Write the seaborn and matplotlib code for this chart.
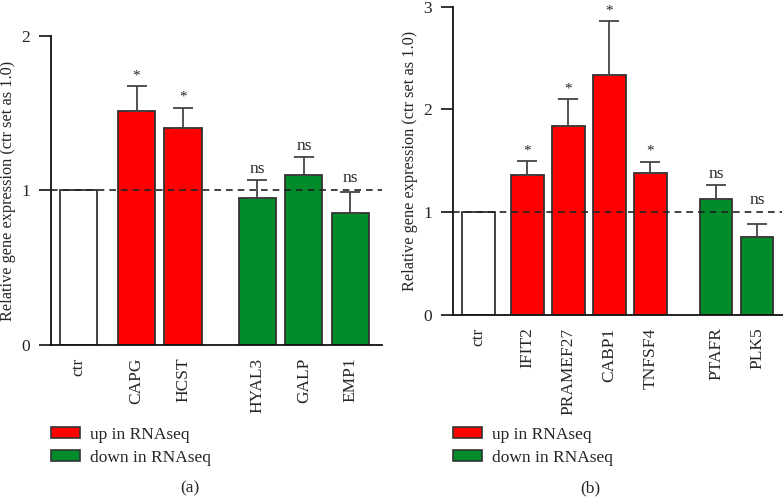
import matplotlib
matplotlib.use("Agg")
import matplotlib.pyplot as plt
import seaborn as sns
import pandas as pd
from matplotlib.patches import Patch

sns.set_style("ticks")
plt.rcParams['font.family'] = ['Liberation Serif', 'DejaVu Serif']

# Panel (a)
genes_a = ["ctr", "CAPG", "HCST", "HYAL3", "GALP", "EMP1"]
pos_a = [0, 1.25, 2.25, 3.85, 4.85, 5.85]
vals_a = [1.0, 1.515, 1.405, 0.951, 1.102, 0.854]
err_a = [0.0, 0.161, 0.129, 0.119, 0.113, 0.134]
group_a = ["ctr", "up", "up", "down", "down", "down"]
sig_a = ["", "*", "*", "ns", "ns", "ns"]

# Panel (b)
genes_b = ["ctr", "IFIT2", "PRAMEF27", "CABP1", "TNFSF4", "PTAFR", "PLK5"]
pos_b = [0, 1.2, 2.2, 3.2, 4.2, 5.8, 6.8]
vals_b = [1.0, 1.365, 1.838, 2.335, 1.381, 1.128, 0.759]
err_b = [0.0, 0.133, 0.260, 0.525, 0.109, 0.140, 0.123]
group_b = ["ctr", "up", "up", "up", "up", "down", "down"]
sig_b = ["", "*", "*", "*", "*", "ns", "ns"]

# annotation gap above the error cap, in pixels (styling)
gap_a = [0, 4, 4, 3, 3, 6]
gap_b = [0, 4, 4, 4, 4, 3, 16]

palette = {"ctr": "#FFFFFF", "up": "#FF0000", "down": "#008C2A"}
edge = "#333333"

fig = plt.figure(figsize=(7.83, 4.98), dpi=100)
W, H = 783, 498

def make_ax(x0, x1, ytop, ybot):
    return fig.add_axes([x0 / W, 1 - ybot / H, (x1 - x0) / W, (ybot - ytop) / H])

ax_a = make_ax(51, 382, 36, 345)
ax_b = make_ax(452.7, 782.5, 6.7, 315)

def draw(ax, genes, pos, vals, errs, groups, sigs, gaps, ylim, yticks, xlim, yunit_px):
    df = pd.DataFrame({"pos": pos, "val": vals, "grp": groups})
    sns.barplot(data=df, x="pos", y="val", hue="grp", palette=palette,
                native_scale=True, dodge=False, width=0.8, errorbar=None,
                saturation=1, edgecolor=edge, linewidth=1.3, legend=False, ax=ax)
    ax.errorbar([p for p, e in zip(pos, errs) if e > 0],
                [v for v, e in zip(vals, errs) if e > 0],
                yerr=[[0] * sum(e > 0 for e in errs), [e for e in errs if e > 0]],
                fmt="none", ecolor="#444444", elinewidth=1.3, capsize=7, capthick=1.3)
    ax.axhline(1.0, color="#222222", linestyle=(0, (4, 3)), linewidth=1.2, zorder=5)
    for p, v, e, s, g in zip(pos, vals, errs, sigs, gaps):
        if not s:
            continue
        fs = 11 if s == "*" else 12.5
        ax.text(p, v + e + g / yunit_px, s, ha="center", va="bottom", fontsize=fs)
    ax.set_xlim(*xlim)
    ax.set_ylim(*ylim)
    ax.set_yticks(yticks)
    ax.set_yticklabels([str(t) for t in yticks], fontsize=12.5)
    ax.set_xticks(pos)
    ax.set_xticklabels(genes, rotation=90, fontsize=12.5)
    ax.tick_params(axis="x", length=0, pad=9)
    ax.tick_params(axis="y", length=9, width=1.2, direction="out", pad=6, color="#111111")
    ax.set_xlabel("")
    ax.set_ylabel("Relative gene expression (ctr set as 1.0)", fontsize=11.7)
    sns.despine(ax=ax)
    for sp in ("left", "bottom"):
        ax.spines[sp].set_linewidth(1.3)
        ax.spines[sp].set_color("#111111")

draw(ax_a, genes_a, pos_a, vals_a, err_a, group_a, sig_a, gap_a, (0, 2), [0, 1, 2], (-0.59, 6.53), 154.5)
draw(ax_b, genes_b, pos_b, vals_b, err_b, group_b, sig_b, gap_b, (0, 3), [0, 1, 2, 3], (-0.62, 7.42), 102.8)
ax_a.yaxis.set_label_coords(-0.106, 0.5)
ax_b.yaxis.set_label_coords(-0.105, 0.5)

handles = [Patch(facecolor=palette["up"], edgecolor=edge, linewidth=1.2, label="up in RNAseq"),
           Patch(facecolor=palette["down"], edgecolor=edge, linewidth=1.2, label="down in RNAseq")]
for x0 in (51 / W, 453 / W):
    fig.legend(handles=handles, loc="upper left", bbox_to_anchor=(x0, 1 - 427 / H),
               frameon=False, fontsize=12.5, handlelength=1.65, handleheight=0.6,
               handletextpad=0.6, labelspacing=0.4, borderpad=0, borderaxespad=0)

fig.text(190 / W, 1 - 488 / H, "(a)", ha="center", va="center", fontsize=12.5)
fig.text(590 / W, 1 - 488 / H, "(b)", ha="center", va="center", fontsize=12.5)

fig.savefig("out.png", dpi=100)
